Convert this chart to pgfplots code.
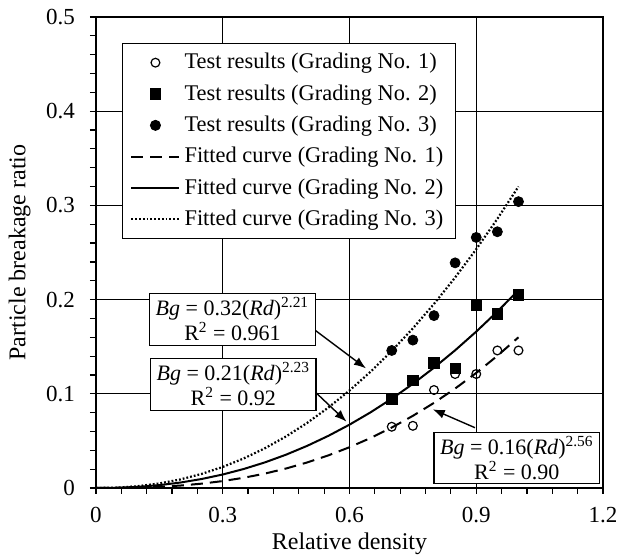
\documentclass[border=0pt]{standalone}
\usepackage{fontspec}
\setmainfont{Liberation Serif}
\usepackage{pgfplots}
\pgfplotsset{compat=1.18}
\usetikzlibrary{arrows.meta}
\pgfplotsset{
  longline/.style={legend image code/.code={\draw[##1] (0pt,0pt) -- (24pt,0pt);}},
  markleg/.style={legend image code/.code={\draw[##1] plot coordinates {(12pt,0pt)};}},
}
\begin{document}
\begin{tikzpicture}
\useasboundingbox (-48pt,-33.5pt) rectangle (265.5pt,244pt);
\begin{axis}[
  scale only axis,
  width=253.5pt, height=235.5pt,
  xmin=0, xmax=1.2, ymin=0, ymax=0.5,
  xtick={0,0.3,0.6,0.9,1.2},
  ytick={0,0.1,0.2,0.3,0.4,0.5},
  xticklabels={0,0.3,0.6,0.9,1.2},
  yticklabels={0,0.1,0.2,0.3,0.4,0.5},
  minor x tick num=4, minor y tick num=4,
  tick align=outside, xtick pos=bottom, ytick pos=left,
  major tick length=3pt, minor tick length=3pt,
  every tick/.style={black, line width=0.6pt},
  grid=major,
  major grid style={black, line width=0.6pt},
  axis line style={black, line width=1pt},
  font=\fontsize{12}{14}\selectfont,
  tick label style={font=\fontsize{11.5}{13}\selectfont},
  yticklabel style={xshift=-4pt},
  xticklabel style={yshift=-3pt},
  /pgf/number format/assume math mode=true,
  xlabel={Relative density},
  ylabel={Particle breakage ratio},
  xlabel style={yshift=2pt},
  ylabel style={yshift=1pt},
  legend style={at={(0.051,0.945)}, anchor=north west, draw=black, line width=0.5pt,
    font=\fontsize{11.2}{13}\selectfont, row sep=2.4pt, inner xsep=4pt, inner ysep=3pt,
    cells={anchor=west}},
  legend cell align=left,
]
% test results
\addplot[only marks, mark=o, mark size=2.2pt, black, line width=0.6pt, markleg]
  coordinates {(0.7,0.065) (0.75,0.066) (0.8,0.104) (0.85,0.121) (0.9,0.121) (0.95,0.146) (1.0,0.146)};
\addlegendentry{Test results (Grading No. 1)}
\addplot[only marks, mark=square*, mark size=2.6pt, black, markleg]
  coordinates {(0.7,0.094) (0.75,0.114) (0.8,0.133) (0.85,0.127) (0.9,0.194) (0.95,0.185) (1.0,0.205)};
\addlegendentry{Test results (Grading No. 2)}
\addplot[only marks, mark=*, mark size=2.5pt, black, markleg]
  coordinates {(0.7,0.146) (0.75,0.157) (0.8,0.183) (0.85,0.239) (0.9,0.266) (0.95,0.272) (1.0,0.304)};
\addlegendentry{Test results (Grading No. 3)}
% fitted curves
\addplot[black, line width=1pt, dash pattern=on 6pt off 3.5pt, no marks, longline] coordinates {
(0,0) (0.05,0.0000747) (0.1,0.000441) (0.15,0.001244) (0.2,0.002599) (0.25,0.0046)
(0.3,0.00734) (0.35,0.01089) (0.4,0.01532) (0.45,0.02072) (0.5,0.02713) (0.55,0.03463)
(0.6,0.04327) (0.65,0.05311) (0.7,0.0642) (0.75,0.0766) (0.8,0.09037) (0.85,0.10555)
(0.9,0.12217) (0.95,0.14031) (1.0,0.16)};
\addlegendentry{Fitted curve (Grading No. 1)}
\addplot[black, line width=1pt, no marks, longline] coordinates {
(0,0) (0.05,0.000263) (0.1,0.001237) (0.15,0.003054) (0.2,0.005802) (0.25,0.009542)
(0.3,0.01433) (0.35,0.02021) (0.4,0.02721) (0.45,0.03539) (0.5,0.04477) (0.55,0.05537)
(0.6,0.06723) (0.65,0.08035) (0.7,0.09479) (0.75,0.11055) (0.8,0.1277) (0.85,0.14616)
(0.9,0.16603) (0.95,0.1873) (1.0,0.21)};
\addlegendentry{Fitted curve (Grading No. 2)}
\addplot[black, line width=1.1pt, dash pattern=on 0.9pt off 1.0pt, no marks, longline] coordinates {
(0,0) (0.05,0.000426) (0.1,0.001973) (0.15,0.004835) (0.2,0.00913) (0.25,0.01495)
(0.3,0.02237) (0.35,0.03144) (0.4,0.04224) (0.45,0.05479) (0.5,0.06917) (0.55,0.08539)
(0.6,0.10349) (0.65,0.1235) (0.7,0.14548) (0.75,0.16944) (0.8,0.19544) (0.85,0.22346)
(0.9,0.25352) (0.95,0.28571) (1.0,0.32)};
\addlegendentry{Fitted curve (Grading No. 3)}
% annotations
\draw[black, line width=0.7pt, -{Latex[length=6pt,width=4.5pt]}] (axis cs:0.514,0.169) -- (axis cs:0.639,0.127);
\draw[black, line width=0.7pt, -{Latex[length=6pt,width=4.5pt]}] (axis cs:0.514,0.104) -- (axis cs:0.593,0.0704);
\draw[black, line width=0.7pt, -{Latex[length=6pt,width=4.5pt]}] (axis cs:0.897,0.064) -- (axis cs:0.797,0.0835);
\node[draw=black, fill=white, line width=0.6pt, align=center, inner xsep=3pt, inner ysep=2pt,
  font=\fontsize{11}{12.5}\selectfont] at (axis cs:0.323,0.179)
  {\textit{Bg} = 0.32(\textit{Rd})\textsuperscript{2.21}\\R\textsuperscript{2} = 0.961};
\node[draw=black, fill=white, line width=0.6pt, align=center, inner xsep=3pt, inner ysep=2pt,
  font=\fontsize{11}{12.5}\selectfont] at (axis cs:0.325,0.110)
  {\textit{Bg} = 0.21(\textit{Rd})\textsuperscript{2.23}\\R\textsuperscript{2} = 0.92};
\node[draw=black, fill=white, line width=0.6pt, align=center, inner xsep=3pt, inner ysep=2pt,
  font=\fontsize{11}{12.5}\selectfont] at (axis cs:0.996,0.0318)
  {\textit{Bg} = 0.16(\textit{Rd})\textsuperscript{2.56}\\R\textsuperscript{2} = 0.90};
\end{axis}
\end{tikzpicture}
\end{document}
